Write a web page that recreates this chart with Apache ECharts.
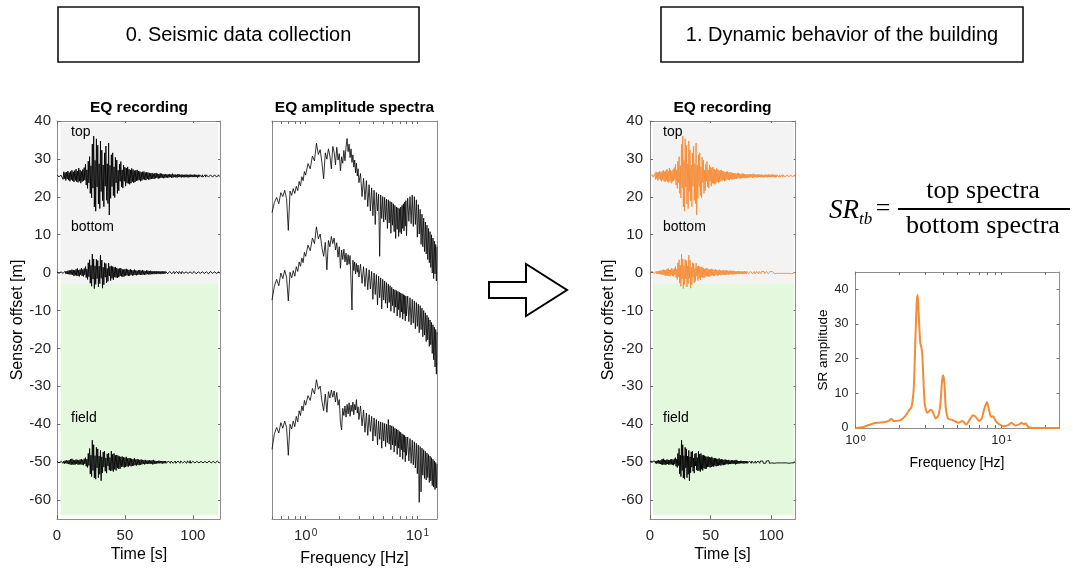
<!DOCTYPE html>
<html>
<head>
<meta charset="utf-8">
<script src="https://cdn.jsdelivr.net/npm/echarts@6/dist/echarts.min.js"></script>
<style>
  html, body { margin: 0; padding: 0; background: #fff; }
  #chart { width: 1073px; height: 571px; }
</style>
</head>
<body>
<div id="chart"></div>
<script>
// ---------------- data ----------------
// Recorded traces, sampled every DT seconds (m, relative to each sensor's offset)
const DT = 0.5;
const offsetTop = 25.5;
const offsetBottom = 0;
const offsetField = -50;

const traceTop = [
  0.2,-0.3,0.3,-0.2,0.3,-0.3,0.2,-0.3,0.6,-0.9,1.1,-0.7,0.9,-1.2,1.0,-0.8,1.3,-1.1,0.9,-1.4,
  1.2,-1.0,1.5,-1.3,1.1,-1.6,1.4,-1.2,1.8,-1.5,1.3,-1.7,2.1,-1.4,1.6,-1.9,1.2,-1.5,1.7,-1.3,
  2.2,-1.1,3.1,-2.4,1.6,-3.3,3.9,-1.8,5.1,-4.6,2.7,-5.8,8.4,-3.2,10.5,-8.2,4.1,-9.3,9.8,-2.9,
  8.1,-7.4,3.2,-8.6,9.2,-4.1,6.8,-6.5,2.9,-8.1,6.1,-2.7,7.9,-6.4,3.2,-7.3,8.7,-10.3,2.8,-5.9,
  5.6,-2.8,6.1,-5.2,2.4,-5.7,4.9,-1.8,4.2,-4.6,1.5,-3.9,3.1,-1.4,3.8,-2.9,1.6,-3.2,2.9,-1.4,
  2.3,-2.7,2.1,-1.9,2.4,-2.0,1.8,-2.2,1.6,-1.9,2.0,-1.5,1.7,-1.8,1.4,-1.6,1.5,-1.3,1.6,-1.2,
  1.3,-1.1,1.2,-1.4,1.0,-1.2,1.1,-0.9,1.2,-1.0,0.9,-1.1,1.0,-0.8,0.9,-1.0,0.8,-0.9,0.7,-0.8,
  0.8,-0.7,0.6,-0.8,0.7,-0.6,0.8,-0.5,0.6,-0.7,0.5,-0.6,0.7,-0.5,0.6,-0.5,0.5,-0.6,0.4,-0.5,
  0.5,-0.4,0.4,-0.5,0.4,-0.4,0.5,-0.3,0.4,-0.5,0.6,-0.4,0.4,-0.3,0.4,-0.4,0.3,-0.4,0.5,-0.3,
  0.4,-0.3,0.3,-0.4,0.4,-0.3,0.3,-0.4,0.3,-0.3,0.4,-0.3,0.3,-0.4,0.3,-0.3,0.4,-0.3,0.3,-0.3,
  0.3,-0.3,0.4,-0.3,0.3,-0.3,0.3,-0.4,0.3,-0.3,0.3,-0.2,0.3,-0.3,0.3,-0.3,0.2,-0.3,0.3,-0.3,
  0.3,-0.2,0.3,-0.3,0.2,-0.3,0.3,-0.2,0.3,-0.3,0.2,-0.3,0.3,-0.2,0.3,-0.3,0.2,-0.2,0.3,-0.2
];
const traceBottom = [
  0.2,-0.2,0.2,-0.2,0.3,-0.2,0.2,-0.3,0.2,-0.2,0.3,-0.3,0.4,-0.3,0.3,-0.4,0.5,-0.4,0.6,-0.5,
  0.6,-0.5,0.8,-0.6,0.7,-0.9,0.6,-0.7,0.9,-0.8,1.1,-0.9,0.7,-1.0,0.8,-0.6,1.2,-0.9,0.8,-1.0,
  1.1,-0.6,1.6,-1.3,0.9,-1.8,2.6,-1.1,3.4,-2.8,1.9,-3.6,4.9,-1.7,3.6,-4.2,1.8,-3.1,3.5,-1.6,
  3.2,-3.8,1.7,-2.9,4.6,-1.5,3.3,-4.1,1.4,-3.2,2.6,-1.2,2.4,-2.7,1.1,-2.3,2.5,-0.9,1.6,-2.1,
  1.8,-1.5,1.6,-1.9,1.4,-1.2,1.5,-1.3,1.2,-1.4,1.0,-1.2,1.1,-0.9,1.2,-1.0,0.9,-1.1,0.8,-1.0,
  0.9,-0.8,1.0,-0.7,0.8,-0.9,0.7,-0.8,0.9,-0.6,0.7,-0.8,0.6,-0.7,0.8,-0.6,0.6,-0.7,0.5,-0.6,
  0.6,-0.5,0.7,-0.6,0.5,-0.6,0.7,-0.5,0.5,-0.6,0.4,-0.5,0.6,-0.4,0.5,-0.5,0.4,-0.5,0.5,-0.4,
  0.4,-0.4,0.3,-0.4,0.4,-0.3,0.4,-0.4,0.3,-0.3,0.4,-0.3,0.3,-0.4,0.3,-0.3,0.4,-0.3,0.3,-0.3,
  0.3,-0.2,0.3,-0.3,0.2,-0.3,0.3,-0.2,0.3,-0.3,0.2,-0.2,0.3,-0.3,0.2,-0.3,0.3,-0.2,0.2,-0.3,
  0.3,-0.2,0.2,-0.3,0.3,-0.2,0.2,-0.2,0.3,-0.3,0.2,-0.2,0.3,-0.2,0.2,-0.3,0.2,-0.2,0.3,-0.2,
  0.2,-0.2,0.3,-0.2,0.2,-0.3,0.2,-0.2,0.2,-0.2,0.3,-0.2,0.2,-0.2,0.2,-0.3,0.2,-0.2,0.2,-0.2,
  0.2,-0.2,0.2,-0.3,0.2,-0.2,0.3,-0.2,0.2,-0.2,0.2,-0.2,0.2,-0.3,0.2,-0.2,0.2,-0.2,0.2,-0.2
];
const traceField = [
  0.2,-0.2,0.3,-0.2,0.2,-0.3,0.2,-0.2,0.3,-0.3,0.3,-0.4,0.4,-0.3,0.5,-0.4,0.4,-0.5,0.5,-0.6,
  0.8,-0.7,0.9,-0.6,0.6,-0.7,0.5,-0.6,0.7,-0.5,0.6,-0.7,0.5,-0.6,0.7,-0.6,0.8,-0.7,0.6,-0.8,
  0.9,-0.5,1.2,-1.1,0.8,-1.4,2.3,-0.9,3.6,-3.1,1.8,-3.8,5.8,-2.2,4.6,-4.2,1.7,-4.5,3.9,-1.5,
  3.5,-4.1,1.6,-3.2,3.1,-4.9,1.4,-2.8,2.7,-1.3,2.9,-2.4,1.1,-2.9,2.2,-1.0,2.4,-2.1,1.2,-2.3,
  2.9,-2.2,2.1,-2.5,2.3,-1.9,1.8,-2.2,1.9,-1.6,1.7,-1.8,1.5,-1.7,1.4,-1.3,1.5,-1.2,1.3,-1.4,
  1.2,-1.3,1.4,-1.1,1.0,-1.2,1.1,-0.9,1.0,-1.1,0.9,-1.0,0.8,-0.9,1.0,-0.8,0.7,-0.9,0.8,-0.7,
  0.7,-0.8,0.6,-0.7,0.7,-0.6,0.6,-0.5,0.5,-0.6,0.6,-0.5,0.4,-0.5,0.5,-0.4,0.5,-0.5,0.4,-0.4,
  0.5,-0.6,0.6,-0.5,0.4,-0.4,0.3,-0.4,0.3,-0.3,0.4,-0.3,0.3,-0.3,0.3,-0.4,0.3,-0.3,0.3,-0.3,
  0.3,-0.3,0.2,-0.3,0.3,-0.2,0.2,-0.3,0.3,-0.2,0.4,-0.3,0.2,-0.2,0.3,-0.3,0.2,-0.2,0.3,-0.2,
  0.2,-0.3,0.3,-0.2,0.2,-0.2,0.3,-0.3,0.2,-0.2,0.2,-0.3,0.3,-0.2,0.2,-0.2,0.4,-0.3,0.2,-0.2,
  0.2,-0.2,0.3,-0.2,0.2,-0.3,0.2,-0.2,0.2,-0.2,0.3,-0.3,0.2,-0.2,0.2,-0.2,0.3,-0.2,0.2,-0.2,
  0.2,-0.2,0.2,-0.2,0.3,-0.2,0.2,-0.2,0.2,-0.3,0.2,-0.2,0.2,-0.2,0.2,-0.2,0.3,-0.2,0.2,-0.2
];

// Amplitude spectra (Hz) - stacked, arbitrary log-amplitude units
const specFreq = [
  0.5,0.525,0.55,0.575,0.6,0.625,0.65,0.675,0.7,0.725,0.75,0.775,0.8,0.825,0.85,0.875,0.9,0.925,0.95,0.975,1.0,
  1.05,1.1,1.15,1.2,1.25,1.3,1.35,1.4,1.45,1.5,1.55,1.6,1.65,1.7,1.75,1.8,1.85,1.9,1.95,2.0,
  2.05,2.1,2.15,2.2,2.25,2.3,2.35,2.4,2.45,2.5,2.55,2.6,2.65,2.7,2.75,2.8,2.85,2.9,2.95,3.0,
  3.1,3.2,3.3,3.4,3.5,3.6,3.7,3.8,3.9,4.0,4.1,4.2,4.3,4.4,4.5,4.6,4.7,4.8,4.9,5.0,
  5.1,5.2,5.3,5.4,5.5,5.6,5.7,5.8,5.9,6.0,6.1,6.2,6.3,6.4,6.5,6.6,6.7,6.8,6.9,7.0,
  7.1,7.2,7.3,7.4,7.5,7.6,7.7,7.8,7.9,8.0,
  8.2,8.4,8.6,8.8,9.0,9.2,9.4,9.6,9.8,10.0,10.2,10.4,10.6,10.8,11.0,11.2,11.4,11.6,11.8,12.0,
  12.2,12.4,12.6,12.8,13.0,13.2,13.4,13.6,13.8,14.0,14.2,14.4,14.6,14.8,15.0
];
const specTop = [
  77.0,79.5,80.8,79.2,82.0,81.0,82.6,80.5,72.5,82.4,81.3,83.0,81.8,83.6,82.5,84.8,83.7,86.0,85.0,87.3,86.4,
  89.3,88.0,91.2,90.0,94.4,91.6,92.8,89.5,85.5,92.0,90.4,93.0,91.2,88.0,93.6,92.2,89.0,93.4,90.2,91.8,
  87.5,91.0,89.4,92.6,90.0,93.5,95.6,92.3,94.2,90.8,93.0,89.6,91.5,88.4,90.2,87.0,89.4,86.2,88.0,84.5,
  86.8,81.0,85.6,80.2,85.0,78.5,84.0,77.4,83.2,76.2,82.6,74.0,82.0,77.4,81.6,66.0,81.4,75.5,81.0,74.6,
  80.8,75.2,80.4,73.0,80.2,74.4,79.8,71.8,79.6,73.8,79.2,72.2,78.8,70.5,78.4,72.8,78.2,71.0,78.0,72.0,
  78.4,71.6,78.8,73.0,79.2,72.4,79.6,73.6,80.0,71.2,
  80.6,74.8,81.0,74.2,81.4,73.5,81.0,74.0,80.2,70.8,79.0,71.6,77.8,69.0,76.6,68.4,75.6,67.2,74.6,66.6,
  73.8,65.2,73.0,64.4,72.2,63.2,71.4,61.8,70.6,60.4,69.8,61.6,69.0,59.8,68.4
];
const specBottom = [
  55.0,58.5,60.2,58.6,61.8,60.4,62.5,60.8,54.8,62.0,60.6,62.4,61.0,63.4,62.2,64.6,63.5,65.6,64.4,67.0,66.0,
  68.8,67.4,70.6,69.2,73.4,70.4,71.6,68.2,66.0,69.5,62.6,70.0,68.4,71.0,69.2,70.6,67.6,69.4,65.8,68.4,
  63.0,67.6,65.2,67.8,64.6,66.8,63.8,66.4,64.0,66.2,59.5,52.5,65.0,62.4,64.6,61.6,64.2,62.0,63.8,60.8,
  64.0,59.2,63.4,58.4,63.0,57.6,62.6,57.8,62.2,55.2,61.8,56.4,61.4,53.8,61.0,55.6,60.6,52.8,60.2,55.0,
  59.8,54.2,59.4,53.0,59.0,54.4,58.6,52.2,58.2,53.6,57.8,51.8,57.6,53.2,57.4,51.0,57.2,52.6,57.0,50.6,
  56.8,52.0,56.6,50.2,56.4,51.6,56.2,49.8,56.0,51.0,
  56.0,49.6,55.6,48.8,55.2,49.2,54.8,47.8,54.4,48.4,54.0,46.8,53.6,47.6,53.0,45.8,52.4,46.2,51.8,44.6,
  51.2,45.0,50.6,43.4,50.0,43.8,49.4,41.6,48.8,40.0,48.2,38.2,47.6,36.4,47.0
];
const specField = [
  17.5,21.4,23.0,21.6,24.2,22.8,24.6,23.0,16.0,23.8,22.6,24.6,23.2,25.8,24.4,27.2,26.0,28.4,27.2,29.8,28.6,
  31.0,29.8,32.8,31.4,35.0,32.6,33.4,29.6,27.2,31.4,26.8,32.0,30.4,32.4,30.6,32.2,29.4,31.8,28.6,30.0,
  24.2,22.4,27.8,26.0,28.4,25.6,28.8,26.4,29.2,25.8,28.6,27.0,29.4,26.2,28.8,27.4,30.0,26.6,28.2,25.0,
  28.4,23.4,27.4,21.8,26.6,21.0,26.2,22.0,25.8,19.6,25.4,20.8,25.0,18.6,24.6,20.0,24.4,17.8,24.2,19.6,
  24.0,18.2,23.8,19.2,25.0,18.8,23.6,17.4,23.4,18.6,23.2,16.8,22.8,18.4,22.6,16.2,22.4,17.8,22.0,15.6,
  21.8,17.4,21.4,15.0,21.2,16.8,21.0,14.4,20.6,16.0,
  20.6,14.6,20.2,14.0,19.8,13.6,19.4,12.8,19.0,11.4,18.6,4.2,18.2,6.8,17.8,11.0,17.4,10.2,17.0,9.8,
  16.6,10.4,16.2,9.2,15.8,9.6,15.4,8.4,15.0,8.0,14.6,7.4,14.2,7.8,13.8
];

// Spectral ratio top / bottom
const srFreq = [
  1.0,1.13,1.25,1.39,1.59,1.70,1.76,1.83,2.01,2.18,2.33,2.42,2.51,2.575,2.63,2.66,2.69,2.73,2.78,2.83,
  2.87,2.91,2.98,3.10,3.19,3.30,3.40,3.55,3.70,3.82,3.92,3.98,4.07,4.15,4.31,4.54,4.79,5.05,5.40,5.75,
  6.07,6.39,6.67,7.03,7.33,7.64,7.97,8.23,8.49,8.76,9.14,9.73,10.5,11.1,11.7,12.5,13.35,13.7,14.2,14.7,
  15.2,16.0,18.0,21.0,25.0
];
const srAmp = [
  0.0,0.3,0.95,1.5,1.7,2.1,2.7,2.0,2.2,3.3,5.1,6.0,11.8,26.2,36.5,38.4,36.0,30.0,24.5,23.2,
  21.0,15.5,7.0,4.4,4.8,5.3,4.4,2.7,3.7,7.0,13.7,15.2,12.8,6.1,2.7,2.4,2.0,1.5,2.0,1.0,
  2.4,3.7,3.2,2.0,2.7,5.6,7.5,5.1,3.2,3.4,2.0,1.0,0.5,0.8,1.5,0.7,1.1,1.5,1.1,1.3,
  0.4,0.05,0.0,0.0,0.0
];

// Tick positions
const timeTicks = [0, 50, 100];
const offsetTicks = [-60, -50, -40, -30, -20, -10, 0, 10, 20, 30, 40];
const decadeTicks = [1, 10];
const specMinorTicks = [0.5, 0.6, 0.7, 0.8, 0.9, 1, 2, 3, 4, 5, 6, 7, 8, 9, 10];
const srMinorTicks = [1, 2, 3, 4, 5, 6, 7, 8, 9, 10, 20];
const srTicks = [0, 10, 20, 30, 40];

// Shaded zones of the recording panels: [t0, t1, y0, y1]
const buildingZone = [2.5, 118.5, -3, 39.5];
const fieldZone = [2.5, 118.5, -64, -3];

// ---------------- styling ----------------
const FONT = '"Liberation Sans", Arial, Helvetica, sans-serif';
const SERIF = '"Liberation Serif", "Times New Roman", serif';
const TXT = '#262626';
const AX = '#8c8c8c';
const ORANGE = '#F68B36';

function axis(o) {
  return {
    type: o.type || 'value',
    logBase: 10,
    gridIndex: o.grid,
    position: o.pos,
    min: o.min,
    max: o.max,
    axisLine: { show: true, onZero: false, lineStyle: { color: AX, width: 1 } },
    axisTick: {
      show: !!o.ticks, inside: true, length: o.tickLen || 4,
      customValues: o.ticks, lineStyle: { color: '#6e6e6e', width: 1 }
    },
    axisLabel: {
      show: !!o.labels, customValues: o.labels, formatter: o.fmt,
      color: TXT, fontSize: o.fs || 15, fontFamily: FONT, margin: o.margin || 7,
      rich: o.rich
    },
    splitLine: { show: false },
    minorTick: { show: false },
    minorSplitLine: { show: false }
  };
}

const decadeFmt = v => '{b|10}{s|' + Math.round(Math.log10(v)) + '}';
const decadeRich = fs => ({
  b: { fontSize: fs, color: TXT, fontFamily: FONT },
  s: { fontSize: Math.round(fs * 0.68), color: TXT, fontFamily: FONT, verticalAlign: 'top', padding: [0, 0, 0, 1] }
});

const grids = [
  { left: 57, top: 121, width: 163, height: 398 },    // recordings (black)
  { left: 272, top: 121, width: 165, height: 398 },   // spectra
  { left: 650, top: 121, width: 145.5, height: 398 }, // recordings (orange)
  { left: 855.5, top: 272, width: 204, height: 156 }  // spectral ratio
].map(g => Object.assign({ outerBoundsMode: 'none', containLabel: false, show: false }, g));

const xAxes = [
  axis({ grid: 0, pos: 'bottom', min: 0, max: 120, ticks: timeTicks, labels: timeTicks, margin: 9 }),
  axis({ grid: 0, pos: 'top', min: 0, max: 120, ticks: timeTicks }),
  axis({ grid: 1, pos: 'bottom', type: 'log', min: 0.5, max: 15, ticks: specMinorTicks, tickLen: 3,
         labels: decadeTicks, fmt: decadeFmt, rich: decadeRich(15), margin: 9 }),
  axis({ grid: 1, pos: 'top', type: 'log', min: 0.5, max: 15, ticks: specMinorTicks, tickLen: 3 }),
  axis({ grid: 2, pos: 'bottom', min: 0, max: 120, ticks: timeTicks, labels: timeTicks, margin: 9 }),
  axis({ grid: 2, pos: 'top', min: 0, max: 120, ticks: timeTicks }),
  axis({ grid: 3, pos: 'bottom', type: 'log', min: 1, max: 25, ticks: srMinorTicks, tickLen: 3,
         labels: decadeTicks, fmt: decadeFmt, rich: decadeRich(13), margin: 6 }),
  axis({ grid: 3, pos: 'top', type: 'log', min: 1, max: 25, ticks: srMinorTicks, tickLen: 3 })
];
const yAxes = [
  axis({ grid: 0, pos: 'left', min: -65, max: 40, ticks: offsetTicks, labels: offsetTicks, margin: 6 }),
  axis({ grid: 0, pos: 'right', min: -65, max: 40, ticks: offsetTicks }),
  axis({ grid: 1, pos: 'left', min: 0, max: 100 }),
  axis({ grid: 1, pos: 'right', min: 0, max: 100 }),
  axis({ grid: 2, pos: 'left', min: -65, max: 40, ticks: offsetTicks, labels: offsetTicks, margin: 7 }),
  axis({ grid: 2, pos: 'right', min: -65, max: 40, ticks: offsetTicks }),
  axis({ grid: 3, pos: 'left', min: 0, max: 45, ticks: srTicks, labels: srTicks, fs: 12.5, margin: 7, tickLen: 3 }),
  axis({ grid: 3, pos: 'right', min: 0, max: 45, ticks: srTicks, tickLen: 3 })
];

const traceData = (vals, offset) => vals.map((v, i) => [i * DT, v + offset]);
const pairData = (xs, ys) => xs.map((x, i) => [x, ys[i]]);

function zoneArea(z, color) {
  return [{ coord: [z[0], z[3]], itemStyle: { color } }, { coord: [z[1], z[2]] }];
}

function backdrop(ax) {
  return {
    type: 'line', xAxisIndex: ax, yAxisIndex: ax, data: [], silent: true, z: 1,
    markArea: {
      silent: true,
      label: { show: false },
      data: [zoneArea(buildingZone, '#f3f3f3'), zoneArea(fieldZone, '#e3f8dc')]
    }
  };
}

function line(ax, data, color, width, extra) {
  return Object.assign({
    type: 'line', xAxisIndex: ax, yAxisIndex: ax, data,
    symbol: 'none', showSymbol: false, silent: true, z: 3,
    lineStyle: { color, width }
  }, extra || {});
}

const TRACE_W = 0.9;
const SPEC_W = 0.8;
const series = [
  backdrop(0),
  line(0, traceData(traceTop, offsetTop), '#000', TRACE_W),
  line(0, traceData(traceBottom, offsetBottom), '#000', TRACE_W),
  line(0, traceData(traceField, offsetField), '#000', TRACE_W),
  line(2, pairData(specFreq, specTop), '#000', SPEC_W),
  line(2, pairData(specFreq, specBottom), '#000', SPEC_W),
  line(2, pairData(specFreq, specField), '#000', SPEC_W),
  backdrop(4),
  line(4, traceData(traceTop, offsetTop), ORANGE, TRACE_W),
  line(4, traceData(traceBottom, offsetBottom), ORANGE, TRACE_W),
  line(4, traceData(traceField, offsetField), '#000', TRACE_W),
  line(6, pairData(srFreq, srAmp), ORANGE, 2, { smooth: 0.2 })
];

// ---------------- annotations ----------------
function text(x, y, str, font, extra) {
  return Object.assign({
    type: 'text', x, y, silent: true, z: 10,
    style: {
      text: str, font, fill: extra && extra.fill || '#000',
      align: extra && extra.align || 'center', textAlign: extra && extra.align || 'center',
      verticalAlign: 'middle', textVerticalAlign: 'middle'
    }
  }, extra && extra.rotation ? { rotation: extra.rotation } : {});
}

const LABEL = '16px ' + FONT;
const TITLE = 'bold 15.5px ' + FONT;
const graphics = [
  { type: 'rect', shape: { x: 58, y: 7, width: 361, height: 55 }, style: { fill: '#fff', stroke: '#111', lineWidth: 1.6 }, z: 9 },
  text(238.5, 35, '0. Seismic data collection', '20px ' + FONT),
  { type: 'rect', shape: { x: 661, y: 7, width: 362, height: 55 }, style: { fill: '#fff', stroke: '#111', lineWidth: 1.6 }, z: 9 },
  text(842, 35, '1. Dynamic behavior of the building', '20px ' + FONT),

  { type: 'polygon', z: 9, shape: { points: [[489, 282], [526, 282], [526, 264], [567, 290], [526, 316], [526, 298], [489, 298]] },
    style: { fill: '#fff', stroke: '#000', lineWidth: 2 } },

  text(139, 108, 'EQ recording', TITLE),
  text(354.5, 108, 'EQ amplitude spectra', TITLE),
  text(722.5, 108, 'EQ recording', TITLE),

  text(17.5, 320, 'Sensor offset [m]', LABEL, { rotation: Math.PI / 2 }),
  text(609, 320, 'Sensor offset [m]', LABEL, { rotation: Math.PI / 2 }),
  text(139, 555, 'Time [s]', LABEL),
  text(722.5, 555, 'Time [s]', LABEL),
  text(354.5, 559, 'Frequency [Hz]', LABEL),
  text(823, 350, 'SR amplitude', '13.5px ' + FONT, { rotation: Math.PI / 2 }),
  text(957, 463, 'Frequency [Hz]', '14px ' + FONT),

  text(71, 132, 'top', '14px ' + FONT, { align: 'left' }),
  text(71, 227, 'bottom', '14px ' + FONT, { align: 'left' }),
  text(71, 418, 'field', '14px ' + FONT, { align: 'left' }),
  text(663, 132, 'top', '14px ' + FONT, { align: 'left' }),
  text(663, 227, 'bottom', '14px ' + FONT, { align: 'left' }),
  text(663, 418, 'field', '14px ' + FONT, { align: 'left' }),

  text(829, 211, 'SR', 'italic 27px ' + SERIF, { align: 'left' }),
  text(859, 220, 'tb', 'italic 17px ' + SERIF, { align: 'left' }),
  text(883, 209, '=', '26px ' + SERIF),
  { type: 'line', z: 10, shape: { x1: 898, y1: 209, x2: 1070, y2: 209 }, style: { stroke: '#000', lineWidth: 2 } },
  text(983, 191, 'top spectra', '26px ' + SERIF),
  text(983, 226, 'bottom spectra', '26px ' + SERIF)
];

const chart = echarts.init(document.getElementById('chart'), null, { renderer: 'canvas', width: 1073, height: 571 });
chart.setOption({
  animation: false,
  backgroundColor: '#fff',
  grid: grids,
  xAxis: xAxes,
  yAxis: yAxes,
  series,
  graphic: graphics
});
</script>
</body>
</html>
